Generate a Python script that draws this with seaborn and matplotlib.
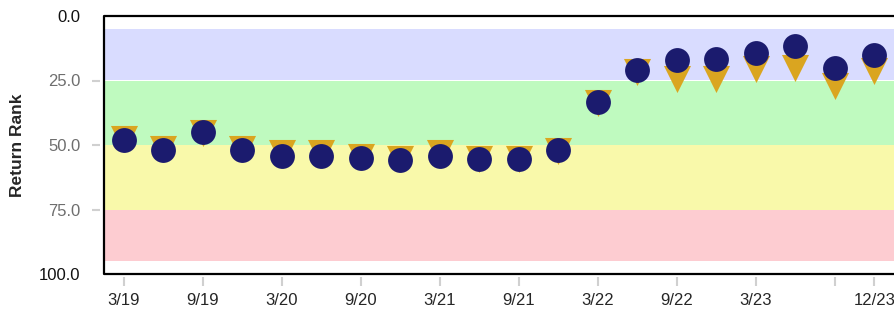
import matplotlib.pyplot as plt
import pandas as pd
import seaborn as sns

# quarter-end labels, one point per quarter
quarters = [
    "3/19", "6/19", "9/19", "12/19",
    "3/20", "6/20", "9/20", "12/20",
    "3/21", "6/21", "9/21", "12/21",
    "3/22", "6/22", "9/22", "12/22",
    "3/23", "6/23", "9/23", "12/23",
]
# navy circles
rank_circle = [48.0, 51.9, 44.9, 51.9, 54.1, 54.2, 55.0, 55.7, 54.1, 55.5,
               55.6, 51.9, 33.4, 21.1, 17.2, 16.5, 14.2, 11.8, 20.3, 15.0]
# gold triangles
rank_triangle = [47.7, 51.5, 45.4, 51.5, 53.1, 53.1, 54.6, 55.4, 53.1, 55.4,
                 55.4, 52.4, 33.9, 21.6, 24.5, 24.5, 20.6, 20.0, 27.0, 21.4]

# quartile bands (lo, hi, colour)
bands = [
    (5, 25, "#D9DCFF"),
    (25, 50, "#BFFABF"),
    (50, 75, "#F9F9AA"),
    (75, 95, "#FDCCD1"),
]
y_ticks = [0, 25, 50, 75, 100]
x_tick_idx = [0, 2, 4, 6, 8, 10, 12, 14, 16, 18, 19]

sns.set_style("white")
plt.rcParams["font.family"] = ["Liberation Sans", "DejaVu Sans"]

df = pd.DataFrame({
    "q": range(len(quarters)),
    "circle": rank_circle,
    "triangle": rank_triangle,
})

fig = plt.figure(figsize=(8.94, 3.12), dpi=100)
ax = fig.add_axes([104 / 894, 1 - 274 / 312, 790 / 894, 258 / 312])

for lo, hi, color in bands:
    ax.axhspan(lo, hi, color=color, lw=0, zorder=0)

sns.scatterplot(data=df, x="q", y="triangle", marker="v", s=380,
                color="#DAA520", linewidth=0, ax=ax, zorder=3)
sns.scatterplot(data=df, x="q", y="circle", marker="o", s=320,
                color="#1B1B6E", linewidth=0, ax=ax, zorder=4)

ax.set_xlim(-0.5, 19.5)
ax.set_ylim(100, 0)

# frame drawn by hand so ticks can sit a little off the axes
for s in ax.spines.values():
    s.set_visible(False)
ax.spines["left"].set_position(("outward", 3))
ax.spines["bottom"].set_position(("outward", 2))
ax.plot([1, 0, 0, 1], [1, 1, 0, 0], transform=ax.transAxes, color="black",
        lw=1.6, clip_on=False, zorder=6)

ax.set_yticks(y_ticks)
ax.set_yticklabels([f"{v:.1f}" for v in y_ticks])
ax.set_xticks(x_tick_idx)
ax.set_xticklabels(["" if i == 18 else quarters[i] for i in x_tick_idx])

ax.tick_params(axis="y", direction="out", length=6, width=1.5, color="#D0D0D0",
               pad=8, labelsize=12, left=True)
ax.tick_params(axis="x", direction="out", length=6.5, width=1.5, color="#D0D0D0",
               pad=5, labelsize=12, bottom=True)
for lab, v in zip(ax.get_yticklabels(), y_ticks):
    lab.set_color("#111111" if v in (0, 100) else "#6E6E6E")
# end ticks carry no mark
ax.yaxis.get_major_ticks()[0].tick1line.set_visible(False)
ax.yaxis.get_major_ticks()[-1].tick1line.set_visible(False)

ax.set_xlabel("")
ax.set_ylabel("Return Rank", fontsize=12.5, fontweight="bold", labelpad=10)
ax.grid(False)

plt.savefig("out.png", dpi=100)
